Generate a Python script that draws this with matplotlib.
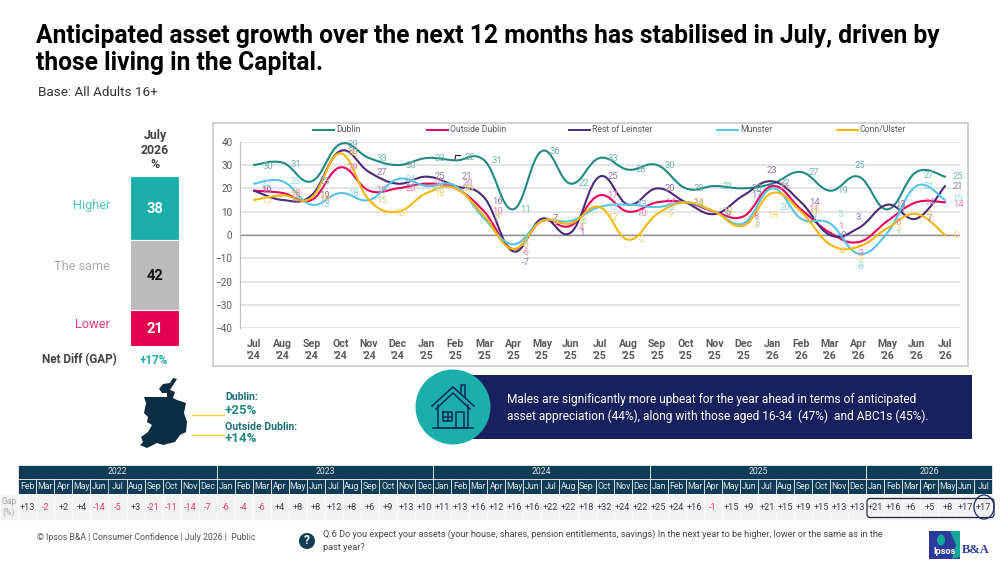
import matplotlib
matplotlib.use('Agg')
import matplotlib.pyplot as plt
from matplotlib.lines import Line2D
from matplotlib.patches import Circle, Ellipse, FancyBboxPatch, PathPatch, Polygon, Rectangle
from matplotlib.path import Path

plt.rcParams['font.family'] = ['Roboto', 'DejaVu Sans']

# line chart data
months = ["Jul\n'24", "Aug\n'24", "Sep\n'24", "Oct\n'24", "Nov\n'24", "Dec\n'24", "Jan\n'25", "Feb\n'25", "Mar\n'25",
          "Apr\n'25", "May\n'25", "Jun\n'25", "Jul\n'25", "Aug\n'25", "Sep\n'25", "Oct\n'25", "Nov\n'25", "Dec\n'25",
          "Jan\n'26", "Feb\n'26", "Mar\n'26", "Apr\n'26", "May\n'26", "Jun\n'26", "Jul\n'26"]
dublin = [30, 31, 23, 39, 33, 30, 33, 32, 32, 11, 36, 22, 33, 28, 30, 20, 21, 20, 22, 27, 19, 25, 11, 27, 25]
outside = [19, 18, 15, 29, 19, 20, 22, 20, 10, -6, 6, 4, 17, 10, 14, 14, 10, 8, 21, 11, 1, -3, 6, 14, 14]
leinster = [19, 15, 17, 36, 27, 22, 25, 21, 16, -7, 7, 1, 25, 13, 20, 14, 9, 17, 23, 14, 0, 3, 13, 7, 21]
munster = [22, 23, 13, 18, 15, 24, 21, 21, 7, -4, 6, 6, 12, 13, 12, 14, 10, 5, 20, 7, 5, -8, 1, 21, 15]
conn = [15, 17, 16, 35, 15, 10, 18, 20, 8, -6, 6, 5, 12, -2, 9, 14, 10, 4, 18, 10, -4, -5, 3, 9, 0]
series_names = ['Dublin', 'Outside Dublin', 'Rest of Leinster', 'Munster', 'Conn/Ulster']
series_values = [dublin, outside, leinster, munster, conn]
series_colors = ['#1F8A7F', '#E8005A', '#4A2A7A', '#55C4EA', '#F8B700']
label_colors = ['#6FB5AE', '#F07FA8', '#8D78AC', '#93D8F0', '#F6D272']

# stacked bar
stack_names = ['Higher', 'The same', 'Lower']
stack_values = [38, 42, 21]
stack_colors = ['#1AAFAB', '#BBBBBB', '#E4004F']
stack_text = ['white', '#111111', 'white']
stack_name_colors = ['#4FC4C0', '#A9A9A9', '#EE3B78']
stack_name_y = [205, 267, 324]

# gap table
years = ['2022', '2023', '2024', '2025', '2026']
year_months = [
    ['Feb', 'Mar', 'Apr', 'May', 'Jun', 'Jul', 'Aug', 'Sep', 'Oct', 'Nov', 'Dec'],
    ['Jan', 'Feb', 'Mar', 'Apr', 'May', 'Jun', 'Jul', 'Aug', 'Sep', 'Oct', 'Nov', 'Dec'],
    ['Jan', 'Feb', 'Mar', 'Apr', 'May', 'Jun', 'Jul', 'Aug', 'Sep', 'Oct', 'Nov', 'Dec'],
    ['Jan', 'Feb', 'Mar', 'Apr', 'May', 'Jun', 'Jul', 'Aug', 'Sep', 'Oct', 'Nov', 'Dec'],
    ['Jan', 'Feb', 'Mar', 'Apr', 'May', 'Jun', 'Jul'],
]
gaps = [13, -2, 2, 4, -14, -5, 3, -21, -11, -14, -7,
        -6, -4, -6, 4, 8, 8, 12, 8, 6, 9, 13, 10,
        11, 13, 16, 12, 16, 16, 22, 22, 18, 32, 24, 22,
        25, 24, 16, -1, 15, 9, 21, 15, 19, 15, 13, 13,
        21, 16, 6, 5, 8, 17, 17]

# label nudges in pixels, (series, month): (dx, dy), dy going up
label_nudge = {
    (0, 0): (14, -1), (0, 1): (13, -2), (0, 7): (14, 3), (0, 21): (1, 11), (0, 23): (13, -3),
    (2, 18): (0, 11), (2, 21): (0, 11), (2, 7): (11, 10), (2, 8): (13, -4), (2, 9): (13, -11),
    (1, 9): (13, -4), (4, 9): (13, 3), (3, 9): (13, 2), (1, 7): (12, 5),
    (2, 11): (11, -1), (1, 11): (11, -2), (4, 11): (11, 1),
    (3, 20): (10, 9), (1, 20): (11, 6), (4, 20): (12, -7),
    (1, 21): (2, -12), (4, 21): (2, -13), (3, 21): (2, -13),
    (3, 22): (10, -1), (4, 22): (11, 0), (1, 22): (11, -1),
    (3, 18): (13, -19), (4, 18): (0, -22), (4, 5): (2, -2), (4, 12): (13, -10),
    (1, 13): (13, -2), (1, 24): (13, -2), (3, 24): (13, 2), (4, 24): (11, 0),
}
# the printed Mar '25 Dublin label differs from where its curve sits
label_text = {(0, 8): '31', (2, 2): '19'}


def smooth_path(xs, ys, k=5.0):
    # Excel style smoothed line, as cubic bezier segments through the points
    verts = [(xs[0], ys[0])]
    codes = [Path.MOVETO]
    n = len(xs)
    for i in range(n - 1):
        x0, y0 = xs[max(i - 1, 0)], ys[max(i - 1, 0)]
        x3, y3 = xs[min(i + 2, n - 1)], ys[min(i + 2, n - 1)]
        verts.append((xs[i] + (xs[i + 1] - x0) / k, ys[i] + (ys[i + 1] - y0) / k))
        verts.append((xs[i + 1] - (x3 - xs[i]) / k, ys[i + 1] - (y3 - ys[i]) / k))
        verts.append((xs[i + 1], ys[i + 1]))
        codes += [Path.CURVE4, Path.CURVE4, Path.CURVE4]
    return Path(verts, codes)


fig = plt.figure(figsize=(10, 5.63), dpi=100, facecolor='white')
W, H = 1000.0, 563.0


def px_axes(left, top, right, bottom):
    return fig.add_axes([left / W, 1 - bottom / H, (right - left) / W, (bottom - top) / H])


# whole slide axes, in pixels, for everything that is not a chart
page = fig.add_axes([0, 0, 1, 1])
page.set_xlim(0, W)
page.set_ylim(H, 0)
page.axis('off')

page.text(36, 36, 'Anticipated asset growth over the next 12 months has stabilised in July, driven by',
          fontsize=17.75, fontweight='bold', color='black', va='center')
page.text(36, 63, 'those living in the Capital.', fontsize=17.75, fontweight='bold', color='black', va='center')
page.text(38, 93, 'Base: All Adults 16+', fontsize=9.7, color='#333333', va='center')

# line chart
page.add_patch(Rectangle((212.5, 123), 755.5, 243, fc='white', ec='#C8C8C8', lw=1.2))
ax = px_axes(239.5, 141.7, 959.5, 328.3)
ax.patch.set_alpha(0)
x = list(range(len(months)))
ax.set_xlim(-0.5, len(months) - 0.5)
ax.set_ylim(-40, 40)
ax.set_yticks(range(-40, 41, 10))
ax.set_xticks(x)
ax.set_xticklabels(months, fontsize=7.6, fontweight='bold', color='#595959', linespacing=1.25)
ax.tick_params(axis='x', length=0, pad=7.5)
ax.tick_params(axis='y', length=0, pad=5, labelsize=7.2, labelcolor='#595959')
ax.grid(axis='y', color='#DCDCDC', lw=1.1)
ax.set_axisbelow(True)
for side in ['top', 'right', 'bottom']:
    ax.spines[side].set_visible(False)
ax.spines['left'].set_color('#BDBDBD')
ax.axhline(0, color='#8F8F8F', lw=1.0, zorder=1)

for s, vals in enumerate(series_values):
    ax.add_patch(PathPatch(smooth_path(x, vals), fc='none', ec=series_colors[s], lw=1.5, zorder=3 + s * 0.1,
                           capstyle='round'))
    for i, v in enumerate(vals):
        dx, dy = label_nudge.get((s, i), (13, 0))
        ax.annotate(label_text.get((s, i), str(v)), (i, v), xytext=(dx * 0.72, dy * 0.72),
                    textcoords='offset points', ha='center', va='center', fontsize=6.8,
                    color=label_colors[s], zorder=6)

# legend, laid out as in the slide
legend_x = [313, 427, 569, 717, 837]
for lx, name, col in zip(legend_x, series_names, series_colors):
    page.add_line(Line2D([lx, lx + 21], [130, 130], color=col, lw=1.4))
    page.text(lx + 23, 130, name, fontsize=6.2, color='#595959', va='center')
page.add_line(Line2D([455, 455.5, 460.5], [160, 155.5, 155.5], color='#222222', lw=0.8))

# stacked bar
for txt, yy in zip(['July', '2026', '%'], [135, 150, 165]):
    page.text(155, yy, txt, fontsize=8.8, fontweight='bold', color='#404040', ha='center', va='center')
bar_ax = px_axes(130, 176, 179.3, 345.5)
bar_ax.set_xlim(0, 1)
bar_ax.set_ylim(sum(stack_values), 0)
bar_ax.axis('off')
bottom = 0
for name, val, col, tcol, ncol, ny in zip(stack_names, stack_values, stack_colors, stack_text, stack_name_colors,
                                          stack_name_y):
    bar_ax.bar(0.5, val, width=1, bottom=bottom, color=col, edgecolor='white', linewidth=0.8)
    bar_ax.text(0.5, bottom + val / 2 + 0.4, str(val), color=tcol, fontsize=10.5, fontweight='bold',
                ha='center', va='center')
    page.text(110, ny, name, color=ncol, fontsize=9.2, ha='right', va='center')
    bottom += val
page.text(117, 360, 'Net Diff (GAP)', fontsize=8.4, fontweight='bold', color='#404040', ha='right', va='center')
page.text(154, 360, '+17%', fontsize=8.4, fontweight='bold', color='#1AAFAB', ha='center', va='center')

# map of Ireland
ireland = [(177, 379), (173, 378), (170, 383), (163, 384), (159, 389), (162, 393), (167, 393), (167, 397), (157, 397),
           (144, 397), (146, 403), (144, 413), (148, 417), (147, 422), (152, 425), (148, 432), (141, 437), (143, 442),
           (140, 445), (147, 448), (157, 443), (163, 445), (175, 442), (180, 435), (186, 432), (187, 422), (184, 413),
           (186, 403), (177, 400), (173, 398), (175, 392), (170, 390)]
page.add_patch(Polygon(ireland, closed=True, fc='#0A2D42', ec='none'))
page.add_line(Line2D([192, 224], [414.5, 414.5], color='#F5CE2E', lw=1.0))
page.add_line(Line2D([192, 224], [435, 435], color='#F5CE2E', lw=1.0))
page.text(225, 397, 'Dublin:', fontsize=7.6, fontweight='bold', color='#1F6F78', va='center')
page.text(225, 410, '+25%', fontsize=9.6, fontweight='bold', color='#1F8A7F', va='center')
page.text(225, 427, 'Outside Dublin:', fontsize=7.6, fontweight='bold', color='#1F6F78', va='center')
page.text(225, 439, '+14%', fontsize=9.6, fontweight='bold', color='#1F8A7F', va='center')

# call out banner
page.add_patch(Rectangle((455, 375), 517, 64, fc='#18205E', ec='none'))
page.add_patch(Circle((453, 407), 37.5, fc='#1AAFAB', ec='none'))
page.text(507, 399, 'Males are significantly more upbeat for the year ahead in terms of anticipated',
          fontsize=8.6, color='white', va='center')
page.text(507, 416, 'asset appreciation (44%), along with those aged 16-34  (47%)  and ABC1s (45%).',
          fontsize=8.6, color='white', va='center')
# house icon
ink = '#14275A'
for xs, ys in [([432, 453, 474], [406, 387, 406]),
               ([436, 453, 470], [409, 393, 409]),
               ([438, 438, 468, 468], [405, 428, 428, 405]),
               ([433, 473], [428, 428]),
               ([461, 461, 465, 465], [393, 385, 385, 397]),
               ([443, 452, 452, 443, 443], [412, 412, 421, 421, 412]),
               ([447.5, 447.5], [412, 421]),
               ([443, 452], [416.5, 416.5]),
               ([456, 456, 464, 464], [428, 412, 412, 428])]:
    page.add_line(Line2D(xs, ys, color=ink, lw=1.1))

# gap table
left, col_w = 18.3, 18.04
y_year, y_month, y_gap, y_end = 464.5, 479, 494, 520
navy = '#0F3B55'
col = 0
for year, names in zip(years, year_months):
    n = len(names)
    page.add_patch(Rectangle((left + col * col_w, y_year), n * col_w, y_month - y_year, fc=navy, ec='white', lw=0.5))
    page.text(left + (col + n / 2) * col_w, (y_year + y_month) / 2, year, color='#DDE6EA', fontsize=6.3,
              ha='center', va='center')
    for j, name in enumerate(names):
        cx = left + (col + j) * col_w
        page.add_patch(Rectangle((cx, y_month), col_w, y_gap - y_month, fc=navy, ec='white', lw=0.5))
        page.text(cx + col_w / 2, (y_month + y_gap) / 2, name, color='#DDE6EA', fontsize=6.3, ha='center',
                  va='center')
    col += n
page.add_patch(Rectangle((0, y_gap), left, y_end - y_gap, fc='#F2F2F2', ec='white', lw=0.5))
page.text(9, (y_gap + y_end) / 2, 'Gap\n(%)', color='#A8A8A8', fontsize=6.2, ha='center', va='center')
for i, g in enumerate(gaps):
    cx = left + i * col_w
    page.add_patch(Rectangle((cx, y_gap), col_w, y_end - y_gap, fc='#F2F2F2', ec='white', lw=0.5))
    page.text(cx + col_w / 2, 508, f'{g:+d}', color='#E0405A' if g < 0 else '#3C3C4A', fontsize=6.6, ha='center',
              va='center')
page.add_patch(FancyBboxPatch((867, 498.5), 127, 19, boxstyle='round,pad=0,rounding_size=3', fc='none',
                              ec='#222A3A', lw=0.9))
page.add_patch(Ellipse((984, 507), 20, 24, fc='none', ec='#1E2A6A', lw=0.9))

# footer
page.text(37, 538, '© Ipsos B&A | Consumer Confidence | July 2026 |  Public', fontsize=6.3, color='#555555',
          va='center')
page.add_patch(Circle((307, 541), 8, fc=navy, ec='none'))
page.text(307, 541, '?', color='white', fontsize=8.5, fontweight='bold', ha='center', va='center')
page.text(323, 534, 'Q.6 Do you expect your assets (your house, shares, pension entitlements, savings) In the next '
          'year to be higher, lower or the same as in the', fontsize=6.55, color='#444444', va='center')
page.text(323, 548, 'past year?', fontsize=6.55, color='#444444', va='center')

# logo
page.add_patch(Rectangle((929, 531), 31, 28, fc='#2B3A9B', ec='none'))
page.add_patch(Polygon([(950, 531), (960, 531), (960, 557), (952, 559), (956, 545)], closed=True, fc='#16A79B',
                       ec='none'))
page.add_patch(Ellipse((941, 540), 8, 11, fc='#16A79B', ec='none'))
page.text(944.5, 552, 'Ipsos', color='white', fontsize=6.6, fontweight='bold', ha='center', va='center')
page.text(976, 550, 'B&A', color='#2B3A9B', fontsize=9, fontweight='bold', family='Liberation Serif', ha='center',
          va='center')

fig.savefig('out.png', dpi=100)
